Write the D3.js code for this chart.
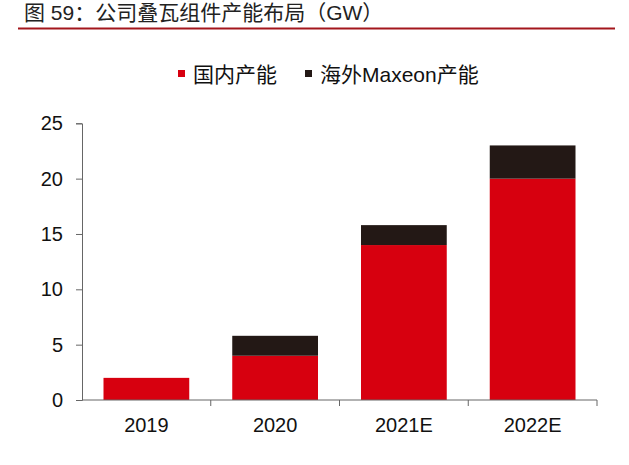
<!DOCTYPE html>
<html>
<head>
<meta charset="utf-8">
<script src="https://cdn.jsdelivr.net/npm/d3@7"></script>
<style>
  body { margin: 0; background: #fff; }
  svg { display: block; font-family: "Liberation Sans", Arial, "Noto Sans CJK SC", sans-serif; }
</style>
</head>
<body>
<svg id="chart" width="629" height="465"></svg>
<script>
// data
const years = ['2019', '2020', '2021E', '2022E'];
const domestic = [2, 4, 14, 20];
const overseas = [0, 1.8, 1.8, 3];
const seriesNames = ['国内产能', '海外Maxeon产能'];
const seriesColours = ['#d7000f', '#231815'];
const yTicks = [0, 5, 10, 15, 20, 25];

const svg = d3.select('#chart');
const margin = { left: 82, right: 32, top: 123.3, bottom: 65 };
const width = +svg.attr('width');
const height = +svg.attr('height');
const cjkFont = '"Liberation Sans", Arial, "Noto Sans CJK SC", sans-serif';

// title + red rule
svg.append('text')
  .attr('x', 24)
  .attr('y', 20)
  .attr('font-family', cjkFont)
  .attr('font-size', 21)
  .attr('fill', '#222')
  .text('图 59：公司叠瓦组件产能布局（GW）');

svg.append('line')
  .attr('x1', 18).attr('x2', 615)
  .attr('y1', 28.5).attr('y2', 28.5)
  .attr('stroke', '#a3161c')
  .attr('stroke-width', 2);

// stacked data
const rows = years.map((y, i) => ({ year: y, domestic: domestic[i], overseas: overseas[i] }));
const stack = d3.stack().keys(['domestic', 'overseas']);
const stacked = stack(rows);

const x = d3.scaleBand()
  .domain(years)
  .range([margin.left, width - margin.right])
  .paddingInner(0.334)
  .paddingOuter(0.167);

const y = d3.scaleLinear()
  .domain([0, 25])
  .range([height - margin.bottom, margin.top]);

// bars
svg.append('g').selectAll('g')
  .data(stacked)
  .join('g')
    .attr('fill', (d, i) => seriesColours[i])
  .selectAll('rect')
  .data(d => d)
  .join('rect')
    .attr('x', d => x(d.data.year))
    .attr('width', x.bandwidth())
    .attr('y', d => y(d[1]))
    .attr('height', d => y(d[0]) - y(d[1]));

// y axis
const yAxis = svg.append('g')
  .attr('transform', `translate(${margin.left},0)`)
  .call(d3.axisLeft(y).tickValues(yTicks).tickSize(6).tickPadding(13));
yAxis.select('.domain').attr('stroke', '#666');
yAxis.selectAll('.tick line').attr('stroke', '#666');
yAxis.selectAll('.tick text')
  .attr('font-size', 20)
  .attr('fill', '#111');

// x axis: ticks at band edges
const xAxisG = svg.append('g')
  .attr('transform', `translate(0,${height - margin.bottom})`);
xAxisG.append('line')
  .attr('x1', margin.left).attr('x2', width - margin.right)
  .attr('stroke', '#666');
const step = x.step();
const edges = years.map(yr => x(yr) - x.paddingInner() * step / 2).concat([width - margin.right]);
xAxisG.selectAll('.edge')
  .data(edges.slice(1))
  .join('line')
    .attr('class', 'edge')
    .attr('x1', d => d).attr('x2', d => d)
    .attr('y1', 0).attr('y2', 6)
    .attr('stroke', '#666');
xAxisG.selectAll('.lbl')
  .data(years)
  .join('text')
    .attr('class', 'lbl')
    .attr('x', d => x(d) + x.bandwidth() / 2)
    .attr('y', 32)
    .attr('text-anchor', 'middle')
    .attr('font-size', 20)
    .attr('fill', '#111')
    .text(d => d);

// legend
const legendItems = [
  { name: seriesNames[0], colour: seriesColours[0], x: 178 },
  { name: seriesNames[1], colour: seriesColours[1], x: 305 }
];
const legend = svg.append('g').selectAll('g')
  .data(legendItems)
  .join('g')
    .attr('transform', d => `translate(${d.x},70)`);
legend.append('rect')
  .attr('width', 7).attr('height', 7)
  .attr('y', 0)
  .attr('fill', d => d.colour);
legend.append('text')
  .attr('x', 15)
  .attr('y', 12)
  .attr('font-family', cjkFont)
  .attr('font-size', 21)
  .attr('fill', '#111')
  .text(d => d.name);
</script>
</body>
</html>
